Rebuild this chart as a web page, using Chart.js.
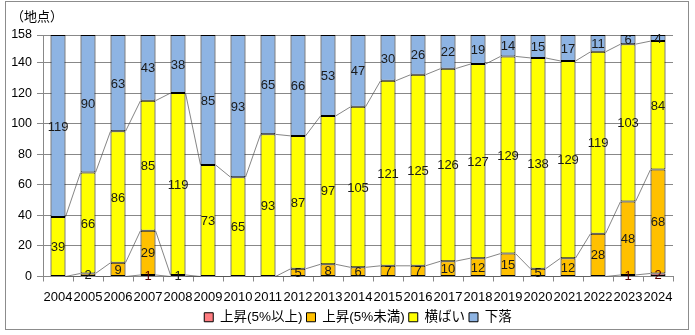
<!DOCTYPE html>
<html>
<head>
<meta charset="utf-8">
<script src="https://cdn.jsdelivr.net/npm/chart.js@4"></script>
<style>
  body { margin: 0; background: #fff; }
  #wrap { width: 695px; height: 335px; position: relative; }
</style>
</head>
<body>
<div id="wrap"><canvas id="chiten" width="695" height="335"></canvas></div>
<script>
// 年度
const years = ['2004','2005','2006','2007','2008','2009','2010','2011','2012','2013','2014',
  '2015','2016','2017','2018','2019','2020','2021','2022','2023','2024'];

// 地点数
const up5Over  = [0,0,0,1,0,0,0,0,0,0,0,0,0,0,0,0,0,0,0,1,2];
const up5Under = [0,2,9,29,1,0,0,0,5,8,6,7,7,10,12,15,5,12,28,48,68];
const flat     = [39,66,86,85,119,73,65,93,87,97,105,121,125,126,127,129,138,129,119,103,84];
const down     = [119,90,63,43,38,85,93,65,66,53,47,30,26,22,19,14,15,17,11,6,4];

const seriesNames = ['上昇(5%以上)', '上昇(5%未満)', '横ばい', '下落'];
const yTicks = [0, 20, 40, 60, 80, 100, 120, 140, 158];

const FONT = "'Liberation Sans', 'Noto Sans CJK JP', sans-serif";

// 系列線（棒と棒の間をつなぐ線）
const seriesLines = {
  id: 'seriesLines',
  afterDatasetsDraw(chart) {
    const ctx = chart.ctx;
    const y = chart.scales.y;
    const metas = [0, 1, 2].map(i => chart.getDatasetMeta(i));
    ctx.save();
    ctx.strokeStyle = '#505050';
    ctx.lineWidth = 0.7;
    for (let d = 0; d < 3; d++) {
      for (let i = 0; i < years.length - 1; i++) {
        let a = 0, b = 0;
        for (let k = 0; k <= d; k++) {
          a += chart.data.datasets[k].data[i];
          b += chart.data.datasets[k].data[i + 1];
        }
        const barA = metas[d].data[i];
        const barB = metas[d].data[i + 1];
        ctx.beginPath();
        ctx.moveTo(barA.x + barA.width / 2, y.getPixelForValue(a));
        ctx.lineTo(barB.x - barB.width / 2, y.getPixelForValue(b));
        ctx.stroke();
      }
    }
    ctx.restore();
  }
};

// 値ラベル
const valueLabels = {
  id: 'valueLabels',
  afterDatasetsDraw(chart) {
    const ctx = chart.ctx;
    ctx.save();
    ctx.font = '13px ' + FONT;
    ctx.textAlign = 'center';
    ctx.textBaseline = 'middle';
    chart.data.datasets.forEach((ds, di) => {
      const meta = chart.getDatasetMeta(di);
      meta.data.forEach((bar, i) => {
        const v = ds.data[i];
        if (!v) return;
        ctx.fillStyle = di === 0 ? '#5a0000' : '#1a1a1a';
        ctx.fillText(String(v), bar.x, (bar.y + bar.base) / 2 + 1);
      });
    });
    ctx.restore();
  }
};

// 単位と外枠
const frame = {
  id: 'frame',
  afterDraw(chart) {
    const ctx = chart.ctx;
    ctx.save();
    ctx.strokeStyle = '#8c8c8c';
    ctx.lineWidth = 1;
    ctx.strokeRect(5.5, 1.5, 683, 328);
    ctx.fillStyle = '#000';
    ctx.font = '13px ' + FONT;
    ctx.textBaseline = 'middle';
    ctx.fillText('（地点）', 11, 17);
    ctx.restore();
  }
};

const colors = ['#ff7c80', '#ffc000', '#ffff00', '#8eb4e3'];
const values = [up5Over, up5Under, flat, down];

new Chart(document.getElementById('chiten'), {
  type: 'bar',
  data: {
    labels: years,
    datasets: values.map((arr, i) => ({
      label: seriesNames[i],
      data: arr,
      backgroundColor: colors[i],
      borderColor: '#000',
      borderWidth: 1,
      borderSkipped: false,
      barPercentage: 0.5,
      categoryPercentage: 1.0
    }))
  },
  options: {
    responsive: false,
    animation: false,
    devicePixelRatio: 1,
    layout: { padding: { left: 0, right: 22, top: 35, bottom: 1 } },
    scales: {
      x: {
        stacked: true,
        afterFit(scale) { scale.height = 30; },
        grid: { drawOnChartArea: false, drawTicks: true, tickLength: 5, color: '#888', offset: true },
        border: { color: '#888' },
        ticks: { color: '#000', font: { family: FONT, size: 13 }, padding: 8, maxRotation: 0, autoSkip: false }
      },
      y: {
        stacked: true,
        min: 0,
        max: 158,
        afterBuildTicks(scale) {
          scale.ticks = yTicks.map(v => ({ value: v }));
        },
        afterFit(scale) { scale.width = 43; },
        grid: { color: '#888', tickLength: 6 },
        border: { color: '#888' },
        ticks: { color: '#000', font: { family: FONT, size: 12.5 }, padding: 5 }
      }
    },
    plugins: {
      legend: {
        position: 'bottom',
        fullSize: false, // プロット領域の中央に凡例を置く
        labels: {
          color: '#000',
          font: { family: FONT, size: 13.5 },
          boxWidth: 9,
          boxHeight: 9,
          padding: 4
        }
      },
      tooltip: { enabled: false }
    }
  },
  plugins: [seriesLines, valueLabels, frame]
});
</script>
</body>
</html>
